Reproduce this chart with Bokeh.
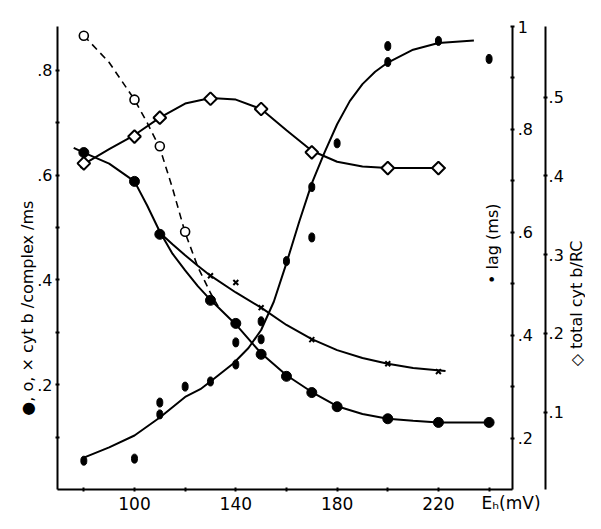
from math import pi
from bokeh.plotting import figure
from bokeh.models import Range1d, LinearAxis, FixedTicker, CustomJSTickFormatter, Label
from bokeh.embed import file_html
from bokeh.resources import INLINE

# ---------------- data ----------------
# filled circles: cyt b / complex / ms
eh_filled = [80, 100, 110, 130, 140, 150, 160, 170, 180, 200, 220, 240]
rate_filled = [0.643, 0.588, 0.487, 0.361, 0.317, 0.258, 0.216, 0.185, 0.158, 0.135, 0.128, 0.128]
fit_filled_x = [76, 80, 90, 100, 105, 110, 115, 120, 125, 130, 140, 150, 160, 170, 180, 190, 200, 210, 220, 240]
fit_filled_y = [0.652, 0.643, 0.622, 0.588, 0.542, 0.492, 0.45, 0.418, 0.388, 0.362, 0.315, 0.26, 0.218,
                0.186, 0.159, 0.144, 0.135, 0.131, 0.128, 0.128]

# open circles (dashed curve)
eh_open = [80, 100, 110, 120]
rate_open = [0.866, 0.744, 0.655, 0.492]
fit_open_x = [80, 90, 100, 105, 110, 115, 120, 125, 130, 133]
fit_open_y = [0.866, 0.815, 0.744, 0.70, 0.652, 0.575, 0.49, 0.425, 0.375, 0.35]

# crosses
eh_cross = [110, 130, 140, 150, 170, 200, 220]
rate_cross = [0.487, 0.408, 0.395, 0.347, 0.286, 0.240, 0.225]
fit_cross_x = [110, 115, 120, 125, 130, 140, 150, 160, 170, 180, 190, 200, 210, 222.8]
fit_cross_y = [0.49, 0.468, 0.447, 0.427, 0.408, 0.376, 0.347, 0.314, 0.287, 0.266, 0.251, 0.240, 0.232, 0.226]

# open diamonds: total cyt b / RC
eh_total = [80, 100, 110, 130, 150, 170, 200, 220]
total_cytb = [0.416, 0.45, 0.474, 0.498, 0.485, 0.43, 0.41, 0.41]
fit_total_x = [78.7, 80, 90, 100, 110, 120, 130, 140, 150, 160, 170, 180, 190, 200, 210, 222.8]
fit_total_y = [0.41, 0.415, 0.434, 0.452, 0.474, 0.492, 0.499, 0.497, 0.485, 0.458, 0.432, 0.418,
               0.412, 0.41, 0.41, 0.41]

# small filled ovals: lag (ms)
eh_lag = [80, 100, 110, 110, 120, 130, 140, 140, 150, 150, 160, 170, 170, 180, 200, 200, 220, 240]
lag_ms = [0.156, 0.160, 0.269, 0.246, 0.300, 0.310, 0.386, 0.343, 0.427, 0.392, 0.544, 0.688, 0.590,
          0.773, 0.962, 0.931, 0.972, 0.937]
fit_lag_x = [80, 90, 100, 110, 120, 126, 130, 139, 145, 150, 155, 160, 165, 170, 175, 180, 185, 190,
             195, 200, 210, 220, 234]
fit_lag_y = [0.162, 0.182, 0.205, 0.24, 0.28, 0.295, 0.31, 0.345, 0.375, 0.41, 0.465, 0.54, 0.62, 0.695,
             0.755, 0.81, 0.855, 0.888, 0.912, 0.93, 0.955, 0.968, 0.973]

x_ticks = [80, 100, 120, 140, 160, 180, 200, 220, 240]
left_ticks = [0.2, 0.4, 0.6, 0.8]
left_minor = [0.1, 0.3, 0.5, 0.7]
lag_ticks = [0.2, 0.4, 0.6, 0.8, 1.0]
lag_minor = [0.3, 0.5, 0.7, 0.9]
total_ticks = [0.1, 0.2, 0.3, 0.4, 0.5]

FONT = "DejaVu Sans"

# ---------------- figure ----------------
p = figure(width=585, height=513, output_backend="svg", toolbar_location=None,
           x_range=Range1d(47.1, 278.06), y_range=Range1d(-0.0458, 0.9332),
           x_axis_type=None, y_axis_type=None,
           min_border_left=0, min_border_right=0, min_border_top=0, min_border_bottom=0)
p.outline_line_color = None
p.background_fill_color = "white"
p.border_fill_color = "white"
p.extra_y_ranges = {"lag": Range1d(0.05334, 1.0506), "total": Range1d(-0.02863, 0.6228)}


def style(ax, size="16px"):
    ax.axis_line_width = 2
    ax.axis_line_color = "black"
    ax.major_tick_line_width = 2
    ax.major_tick_in = 2
    ax.major_tick_out = 2
    ax.minor_tick_line_width = 2
    ax.minor_tick_in = 2
    ax.minor_tick_out = 2
    ax.major_label_text_font = FONT
    ax.major_label_text_font_size = size
    ax.major_label_text_color = "black"


xaxis = LinearAxis(ticker=FixedTicker(ticks=x_ticks), fixed_location=0,
                   formatter=CustomJSTickFormatter(code="return (tick % 40 == 20 && tick < 240) ? String(tick) : '';"),
                   bounds=(69.6, 249.3))
style(xaxis, "17px")
xaxis.major_label_standoff = 5
p.add_layout(xaxis, "below")

yaxis = LinearAxis(ticker=FixedTicker(ticks=left_ticks, minor_ticks=left_minor), fixed_location=69.6,
                   bounds=(0, 0.8836),
                   formatter=CustomJSTickFormatter(code="return tick.toFixed(1).replace(/^0/, '');"))
style(yaxis, "16px")
yaxis.major_label_standoff = 3
p.add_layout(yaxis, "left")

lag_axis = LinearAxis(y_range_name="lag", fixed_location=249.3, bounds=(0.1, 1.0),
                      ticker=FixedTicker(ticks=lag_ticks, minor_ticks=lag_minor),
                      formatter=CustomJSTickFormatter(
                          code="return tick > 0.99 ? '1' : tick.toFixed(1).replace(/^0/, '');"))
style(lag_axis, "16px")
lag_axis.major_label_standoff = 3
p.add_layout(lag_axis, "right")

total_axis = LinearAxis(y_range_name="total", fixed_location=262.3, bounds=(0.002, 0.59),
                        ticker=FixedTicker(ticks=total_ticks),
                        formatter=CustomJSTickFormatter(code="return tick.toFixed(1).replace(/^0/, '');"))
style(total_axis, "16px")
total_axis.major_label_standoff = 1
p.add_layout(total_axis, "right")

# ---------------- curves ----------------
p.line(fit_filled_x, fit_filled_y, line_color="black", line_width=2)
p.line(fit_cross_x, fit_cross_y, line_color="black", line_width=2)
p.line(fit_open_x, fit_open_y, line_color="black", line_width=1.6, line_dash="7 5")
p.line(fit_total_x, fit_total_y, line_color="black", line_width=2, y_range_name="total")
p.line(fit_lag_x, fit_lag_y, line_color="black", line_width=2, y_range_name="lag")

# ---------------- markers ----------------
p.scatter(eh_filled, rate_filled, marker="circle", size=10, fill_color="black", line_color="black")
p.scatter(eh_open, rate_open, marker="circle", size=9, fill_color="white", line_color="black", line_width=1.6)
p.scatter(eh_cross, rate_cross, marker="x", size=7, line_color="black", line_width=2)
p.scatter(eh_total, total_cytb, marker="square", angle=pi / 4, size=9, fill_color="white",
          line_color="black", line_width=2, y_range_name="total")
p.ellipse(eh_lag, lag_ms, width=6, height=9, width_units="screen", height_units="screen",
          fill_color="black", line_color="black", y_range_name="lag")

# ---------------- labels ----------------
def lab(text, x, y, angle=0.0, align="center", baseline="middle", size="16px", range_name="default"):
    p.add_layout(Label(x=x, y=y, text=text, angle=angle, text_align=align, text_baseline=baseline,
                       text_font=FONT, text_font_size=size, text_color="black", y_range_name=range_name))

lab("●, o, ×  cyt b /complex /ms", 57.8, 0.351, angle=pi / 2)
lab("• lag (ms)", 241.3, 0.469, angle=pi / 2)
lab("◇ total cyt b/RC", 274.6, 0.355, angle=pi / 2)
lab("E\u2095(mV)", 237.0, -0.0267, align="left", baseline="alphabetic", size="17px")

open("out.html", "w").write(file_html(p, INLINE))
